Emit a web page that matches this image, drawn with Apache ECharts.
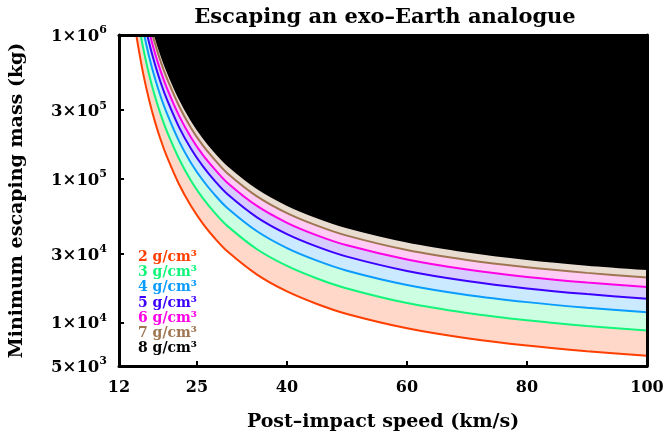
<!DOCTYPE html>
<html>
<head>
<meta charset="utf-8">
<script src="https://cdn.jsdelivr.net/npm/echarts@6/dist/echarts.min.js"></script>
<style>
  html, body { margin: 0; padding: 0; background: #fff; }
  #graph { width: 668px; height: 437px; }
</style>
</head>
<body>
<div id="graph"></div>
<script>
// post-impact speed (km/s)
var speeds = [14, 14.5, 15, 16, 17, 18, 19, 20, 22, 24, 26, 28, 30, 35, 40, 45, 50, 60, 70, 80, 90, 100];

// minimum escaping mass (kg), one list per density
var rho2 = [1.82e6, 1.28e6, 9.33e5, 5.48e5, 3.56e5, 2.49e5, 1.84e5, 1.42e5, 9.17e4, 6.47e4, 4.87e4, 3.85e4, 3.15e4, 2.16e4, 1.65e4, 1.35e4, 1.15e4, 9.15e3, 7.80e3, 6.93e3, 6.33e3, 5.89e3];
var rho3 = [2.73e6, 1.92e6, 1.40e6, 8.22e5, 5.34e5, 3.74e5, 2.76e5, 2.13e5, 1.38e5, 9.71e4, 7.31e4, 5.78e4, 4.73e4, 3.24e4, 2.48e4, 2.03e4, 1.73e4, 1.37e4, 1.17e4, 1.04e4, 9.50e3, 8.84e3];
var rho4 = [3.64e6, 2.56e6, 1.87e6, 1.10e6, 7.12e5, 4.98e5, 3.68e5, 2.84e5, 1.83e5, 1.29e5, 9.74e4, 7.70e4, 6.30e4, 4.32e4, 3.30e4, 2.70e4, 2.30e4, 1.83e4, 1.56e4, 1.39e4, 1.27e4, 1.18e4];
var rho5 = [4.55e6, 3.20e6, 2.33e6, 1.37e6, 8.90e5, 6.23e5, 4.60e5, 3.55e5, 2.29e5, 1.62e5, 1.22e5, 9.63e4, 7.88e4, 5.40e4, 4.13e4, 3.38e4, 2.88e4, 2.29e4, 1.95e4, 1.73e4, 1.58e4, 1.47e4];
var rho6 = [5.46e6, 3.84e6, 2.80e6, 1.64e6, 1.07e6, 7.47e5, 5.52e5, 4.26e5, 2.75e5, 1.94e5, 1.46e5, 1.16e5, 9.45e4, 6.48e4, 4.95e4, 4.05e4, 3.45e4, 2.75e4, 2.34e4, 2.08e4, 1.90e4, 1.77e4];
var rho7 = [6.37e6, 4.48e6, 3.27e6, 1.92e6, 1.25e6, 8.72e5, 6.44e5, 4.97e5, 3.21e5, 2.26e5, 1.70e5, 1.35e5, 1.10e5, 7.56e4, 5.78e4, 4.73e4, 4.03e4, 3.20e4, 2.73e4, 2.43e4, 2.22e4, 2.06e4];
var rho8 = [7.28e6, 5.12e6, 3.73e6, 2.19e6, 1.42e6, 9.96e5, 7.36e5, 5.68e5, 3.67e5, 2.59e5, 1.95e5, 1.54e5, 1.26e5, 8.64e4, 6.60e4, 5.40e4, 4.60e4, 3.66e4, 3.12e4, 2.77e4, 2.53e4, 2.36e4];

var densityNames = ['2 g/cm³', '3 g/cm³', '4 g/cm³', '5 g/cm³', '6 g/cm³', '7 g/cm³', '8 g/cm³'];

// tick labels
var xTicks = [12, 25, 40, 60, 80, 100];
var yTicks = [5000, 10000, 30000, 100000, 300000, 1000000];
var yTickMant = ['5', '1', '3', '1', '3', '1'];
var yTickExp = ['3', '4', '4', '5', '5', '6'];

var serif = 'DejaVu Serif';

function setup() {
  var dom = document.getElementById('graph');
  var myChart = echarts.init(dom);

  var lineColors = ['#ff3f00', '#12f57a', '#0a9cff', '#3c00ff', '#ff00e6', '#a07652', '#000000'];
  var fillColors = ['#ffd8ca', '#ccffe2', '#cbe9ff', '#d7ccff', '#ffccf6', '#e9ddd2', '#000000'];
  var curves = [rho2, rho3, rho4, rho5, rho6, rho7, rho8];

  // each curve fills up to the top of the plot, drawn low density first
  var series = [];
  for (var i = 0; i < curves.length; i++) {
    var pts = [];
    for (var j = 0; j < speeds.length; j++) {
      pts.push([speeds[j], curves[i][j]]);
    }
    series.push({
      name: densityNames[i],
      type: 'line',
      data: pts,
      smooth: 0.3,
      showSymbol: false,
      silent: true,
      clip: true,
      lineStyle: { color: lineColors[i], width: 2 },
      areaStyle: { color: fillColors[i], opacity: 1, origin: 'end' },
      z: 2 + i
    });
  }

  var legendData = [];
  for (var k = 0; k < densityNames.length; k++) {
    legendData.push({ name: densityNames[k], icon: 'none', textStyle: { color: lineColors[k] } });
  }

  var option = {
    animation: false,
    backgroundColor: '#fff',
    title: [{
      text: 'Escaping an exo–Earth analogue',
      left: 380,
      textAlign: 'center',
      top: 2,
      textStyle: { fontFamily: serif, fontWeight: 'bold', fontSize: 21, color: '#000' }
    }, {
      text: 'Allowable masses',
      left: 352,
      top: 98,
      textStyle: { fontFamily: serif, fontWeight: 'bold', fontSize: 21, color: '#fff' }
    }],
    legend: {
      orient: 'vertical',
      left: 128,
      top: 244,
      itemWidth: 0,
      itemHeight: 16.5,
      itemGap: 0,
      selectedMode: false,
      data: legendData,
      textStyle: { fontFamily: serif, fontWeight: 'bold', fontSize: 14, padding: [0, 0, 0, 0] }
    },
    grid: { left: 112, right: 21, top: 35, bottom: 69 },
    xAxis: [{
      type: 'value',
      min: 12,
      max: 100,
      name: 'Post–impact speed (km/s)',
      nameLocation: 'middle',
      nameGap: 47,
      nameTextStyle: { fontFamily: serif, fontWeight: 'bold', fontSize: 19, color: '#000' },
      splitLine: { show: false },
      axisLine: { lineStyle: { color: '#000', width: 3 } },
      axisTick: { inside: true, length: 5, lineStyle: { color: '#000', width: 2 }, customValues: [25, 40, 60, 80] },
      axisLabel: { customValues: xTicks, margin: 14, fontFamily: serif, fontWeight: 'bold', fontSize: 16, color: '#000' },
      z: 20
    }, {
      type: 'value',
      min: 12,
      max: 100,
      position: 'top',
      splitLine: { show: false },
      axisLine: { lineStyle: { color: '#000', width: 3 } },
      axisTick: { show: false },
      axisLabel: { show: false },
      z: 20
    }],
    yAxis: [{
      type: 'log',
      min: 5000,
      max: 1000000,
      name: 'Minimum escaping mass (kg)',
      nameLocation: 'middle',
      nameGap: 92,
      nameTextStyle: { fontFamily: serif, fontWeight: 'bold', fontSize: 19, color: '#000' },
      splitLine: { show: false },
      minorTick: { show: false },
      axisLine: { lineStyle: { color: '#000', width: 3 } },
      axisTick: { inside: true, length: 5, lineStyle: { color: '#000', width: 2 }, customValues: [10000, 30000, 100000, 300000] },
      axisLabel: {
        customValues: yTicks,
        margin: 12,
        formatter: function (v) {
          var idx = 0;
          for (var n = 0; n < yTicks.length; n++) {
            if (Math.abs(yTicks[n] - v) / yTicks[n] < 1e-6) idx = n;
          }
          return '{b|' + yTickMant[idx] + '×10}{s|' + yTickExp[idx] + '}';
        },
        rich: {
          b: { fontFamily: serif, fontWeight: 'bold', fontSize: 16.5, color: '#000', lineHeight: 20, verticalAlign: 'bottom' },
          s: { fontFamily: serif, fontWeight: 'bold', fontSize: 11, color: '#000', lineHeight: 12, verticalAlign: 'top' }
        }
      },
      z: 20
    }, {
      type: 'log',
      min: 5000,
      max: 1000000,
      position: 'right',
      splitLine: { show: false },
      minorTick: { show: false },
      axisLine: { lineStyle: { color: '#000', width: 3 } },
      axisTick: { show: false },
      axisLabel: { show: false },
      z: 20
    }],
    series: series
  };

  myChart.setOption(option, true);
}

setup();
</script>
</body>
</html>
